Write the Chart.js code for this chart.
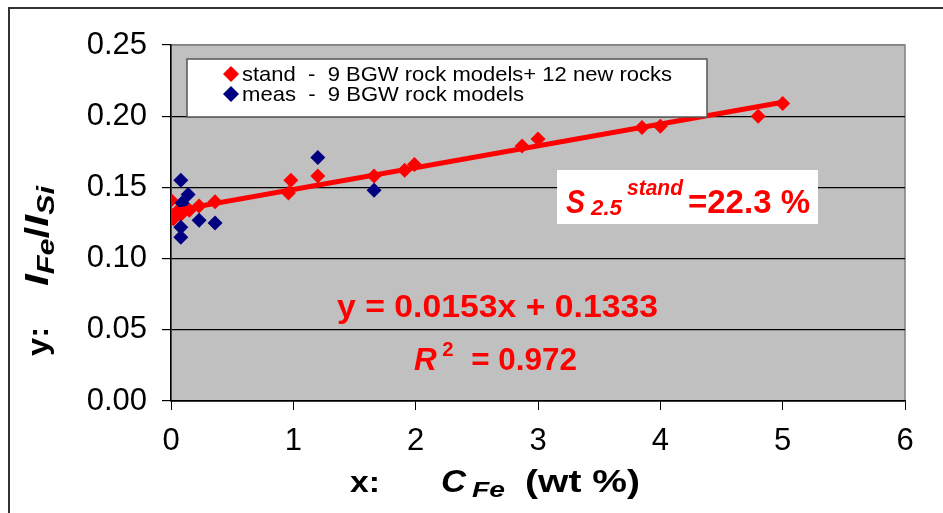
<!DOCTYPE html>
<html>
<head>
<meta charset="utf-8">
<script src="https://cdn.jsdelivr.net/npm/chart.js@4.4.0/dist/chart.umd.min.js"></script>
<style>
  html, body { margin: 0; padding: 0; background: #fff; }
  #wrap { width: 943px; height: 513px; }
</style>
</head>
<body>
<div id="wrap"><canvas id="chart" width="943" height="513"></canvas></div>
<script>
// stand - 9 BGW rock models + 12 new rocks
const standX = [0, 0, 0.02, 0.05, 0.08, 0.10, 0.15, 0.23, 0.36, 0.96, 0.98, 1.20, 1.66, 1.91, 1.99, 2.87, 3.00, 3.85, 4.00, 4.80, 5.00];
const standY = [0.141, 0.130, 0.128, 0.133, 0.131, 0.134, 0.134, 0.137, 0.140, 0.146, 0.155, 0.158, 0.158, 0.162, 0.166, 0.179, 0.184, 0.192, 0.193, 0.200, 0.209];

// meas - 9 BGW rock models
const measX = [0.08, 0.14, 0.09, 0.23, 0.36, 0.08, 0.08, 1.20, 1.66];
const measY = [0.155, 0.145, 0.139, 0.127, 0.125, 0.122, 0.115, 0.171, 0.148];

// linear trend y = 0.0153x + 0.1333, end points
const trendX = [0, 5];
const trendY = [0.1333, 0.2098];

const xMin = 0, xMax = 6, xStep = 1;
const yMin = 0, yMax = 0.25, yStep = 0.05;

const legendLabels = [
    'stand  -  9 BGW rock models+ 12 new rocks',
    'meas  -  9 BGW rock models'
];

const RED = '#ff0000';
const NAVY = '#000080';
const FONT = "'Liberation Sans', Arial, sans-serif";

function toPoints(xs, ys) {
    return xs.map((x, i) => ({ x: x, y: ys[i] }));
}

// draw a row of text pieces [text, font, dy], returns width
function drawRuns(ctx, x, y, runs, draw = true) {
    let cx = x;
    for (const [text, font, dy] of runs) {
        ctx.font = font;
        if (draw) ctx.fillText(text, cx, y + (dy || 0));
        cx += ctx.measureText(text).width;
    }
    return cx - x;
}

// same, but squeezed/stretched to a given width
function drawFit(ctx, x, y, runs, width) {
    const w = drawRuns(ctx, 0, 0, runs, false);
    ctx.save();
    ctx.translate(x, y);
    ctx.scale(width / w, 1);
    drawRuns(ctx, 0, 0, runs);
    ctx.restore();
}

function diamond(ctx, x, y, r, color) {
    ctx.fillStyle = color;
    ctx.beginPath();
    ctx.moveTo(x - r, y);
    ctx.lineTo(x, y - r);
    ctx.lineTo(x + r, y);
    ctx.lineTo(x, y + r);
    ctx.closePath();
    ctx.fill();
}

const backdrop = {
    id: 'backdrop',
    beforeDraw(chart) {
        const { ctx, chartArea: a } = chart;
        ctx.save();
        ctx.fillStyle = '#fff';
        ctx.fillRect(0, 0, chart.width, chart.height);
        ctx.strokeStyle = '#333';
        ctx.lineWidth = 2;
        ctx.strokeRect(9, 8, chart.width + 20, chart.height + 20);
        ctx.fillStyle = '#c0c0c0';
        ctx.fillRect(a.left, a.top, a.right - a.left, a.bottom - a.top);
        ctx.strokeStyle = '#808080';
        ctx.lineWidth = 1.5;
        ctx.strokeRect(a.left, a.top, a.right - a.left, a.bottom - a.top);
        ctx.restore();
    }
};

const overlay = {
    id: 'overlay',
    afterDraw(chart) {
        const ctx = chart.ctx;
        ctx.save();
        ctx.textBaseline = 'alphabetic';

        // legend box
        ctx.fillStyle = '#fff';
        ctx.fillRect(187, 59, 520, 58);
        ctx.strokeStyle = '#555';
        ctx.lineWidth = 1.5;
        ctx.strokeRect(187, 59, 520, 58);
        diamond(ctx, 231, 74, 8, RED);
        diamond(ctx, 231, 94, 8, NAVY);
        ctx.fillStyle = '#000';
        drawFit(ctx, 242, 81, [[legendLabels[0], '21px ' + FONT, 0]], 430);
        drawFit(ctx, 242, 101, [[legendLabels[1], '21px ' + FONT, 0]], 282);

        // S box
        ctx.fillStyle = '#fff';
        ctx.fillRect(557, 170, 261, 54);
        ctx.fillStyle = RED;
        drawFit(ctx, 566, 213, [['S', 'italic bold 34px ' + FONT, 0]], 19);
        drawFit(ctx, 591, 215, [['2.5', 'italic bold 22px ' + FONT, 0]], 31);
        drawFit(ctx, 627, 195, [['stand', 'italic bold 22px ' + FONT, 0]], 56);
        drawFit(ctx, 688, 213, [['=22.3 %', 'bold 34px ' + FONT, 0]], 122);

        // regression text
        drawFit(ctx, 337, 317, [['y = 0.0153x + 0.1333', 'bold 31px ' + FONT, 0]], 321);
        const r2 = [
            ['R', 'italic bold 31px ' + FONT, 0],
            [' 2', 'bold 20px ' + FONT, -14],
            ['  = 0.972', 'bold 31px ' + FONT, 0]
        ];
        drawFit(ctx, 414, 370, r2, 163);

        // x axis title
        ctx.fillStyle = '#000';
        drawFit(ctx, 350, 492, [['x:', 'bold 30px ' + FONT, 0]], 30);
        drawFit(ctx, 441, 492, [['C', 'italic bold 31px ' + FONT, 0]], 25);
        drawFit(ctx, 472, 497, [['Fe', 'italic bold 22px ' + FONT, 0]], 33);
        drawFit(ctx, 525, 492, [['(wt %)', 'bold 31px ' + FONT, 0]], 115);

        // y axis title (rotated)
        ctx.translate(48, 0);
        ctx.rotate(-Math.PI / 2);
        drawFit(ctx, -356, 0, [['y:', 'bold 30px ' + FONT, 0]], 29);
        drawFit(ctx, -286, 0, [
            ['I', 'italic bold 33px ' + FONT, 0],
            ['Fe', 'italic bold 24px ' + FONT, 6],
            ['/', 'bold 33px ' + FONT, 0],
            ['I', 'italic bold 33px ' + FONT, 0],
            ['Si', 'italic bold 24px ' + FONT, 6]
        ], 100);
        ctx.restore();
    }
};

new Chart(document.getElementById('chart'), {
    type: 'scatter',
    data: {
        datasets: [{
            label: 'trend',
            data: toPoints(trendX, trendY),
            showLine: true,
            borderColor: RED,
            borderWidth: 5,
            pointRadius: 0,
            order: 0
        }, {
            label: 'meas',
            data: toPoints(measX, measY),
            pointStyle: 'rectRot',
            pointRadius: 7.5,
            backgroundColor: NAVY,
            borderWidth: 0,
            order: 1
        }, {
            label: 'stand',
            data: toPoints(standX, standY),
            pointStyle: 'rectRot',
            pointRadius: 7.5,
            backgroundColor: RED,
            borderWidth: 0,
            order: 2
        }]
    },
    options: {
        responsive: false,
        animation: false,
        layout: { padding: { top: 45, right: 38, left: 0, bottom: 0 } },
        plugins: {
            legend: { display: false },
            tooltip: { enabled: false }
        },
        scales: {
            x: {
                type: 'linear',
                min: xMin,
                max: xMax,
                afterFit: (s) => { s.height = 112; },
                grid: { drawOnChartArea: false, color: '#000', tickLength: 9 },
                border: { color: '#000', width: 1.5 },
                ticks: {
                    stepSize: xStep,
                    color: '#000',
                    padding: 13,
                    font: { family: FONT, size: 31 }
                }
            },
            y: {
                type: 'linear',
                min: yMin,
                max: yMax,
                afterFit: (s) => { s.width = 171; },
                grid: {
                    color: (c) => c.tick && c.tick.value >= yMax - 1e-9 ? '#808080' : '#000',
                    tickColor: '#000',
                    tickLength: 9,
                    lineWidth: 1.2
                },
                border: { color: '#000', width: 1.5 },
                ticks: {
                    stepSize: yStep,
                    color: '#000',
                    padding: 15,
                    autoSkip: false,
                    font: { family: FONT, size: 31 },
                    callback: (v) => v.toFixed(2)
                }
            }
        }
    },
    plugins: [backdrop, overlay]
});
</script>
</body>
</html>
